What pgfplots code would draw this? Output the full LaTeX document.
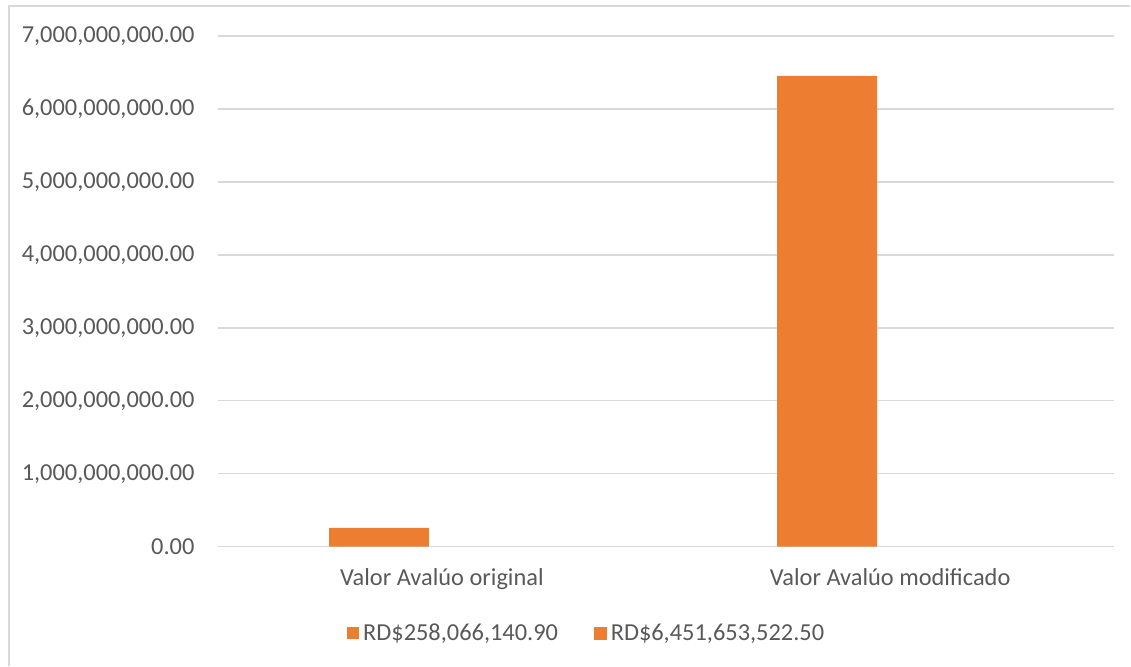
\documentclass[border=0pt]{standalone}
\usepackage{fontspec}
\setmainfont{Carlito}
\usepackage{pgfplots}
\pgfplotsset{compat=1.18}
\definecolor{barorange}{HTML}{ED7D31}
\definecolor{txt}{HTML}{595959}
\definecolor{gridc}{HTML}{D9D9D9}
\begin{document}
\begin{tikzpicture}
\path[draw=none] (0pt,0pt) rectangle (565.5pt,333pt);
\draw[gridc, line width=0.75pt] (4.5pt,0pt) -- (4.5pt,330pt) -- (565.5pt,330pt);
\begin{axis}[
  at={(109pt,59.5pt)}, anchor=south west,
  scale only axis, width=448.5pt, height=255.5pt,
  xmin=-0.5, xmax=1.5, ymin=0, ymax=7000000000,
  xtick={0,1}, xticklabels={Valor Avalúo original, Valor Avalúo modificado},
  ytick={0,1000000000,2000000000,3000000000,4000000000,5000000000,6000000000,7000000000},
  axis line style={draw=none}, tick style={draw=none},
  ymajorgrids, grid style={gridc, line width=0.75pt},
  scaled y ticks=false,
  ticklabel style={font=\fontsize{12.2}{14}\selectfont, text=txt},
  yticklabel style={/pgf/number format/fixed, /pgf/number format/fixed zerofill, /pgf/number format/precision=2, /pgf/number format/1000 sep={,}, /pgf/number format/assume math mode=true},
  yticklabel style={inner sep=0pt, xshift=-11.5pt},
  xticklabel style={inner sep=0pt, yshift=-11pt},
  legend style={at={(0.4125,-0.17)}, anchor=center, draw=none, fill=none, legend columns=2,
    font=\fontsize{12.2}{14}\selectfont, text=txt,
    /tikz/every even column/.append style={column sep=16pt}},
]
\addplot[ybar, bar width=50pt, bar shift=-31.5pt, fill=barorange, draw=none,
  legend image code/.code={\fill[barorange] (0pt,-3pt) rectangle (6pt,3pt);}]
  coordinates {(0,258066140.90) (1,6451653522.50)};
\addlegendentry{RD\$258,066,140.90}
\addlegendimage{legend image code/.code={\fill[barorange] (0pt,-3pt) rectangle (6pt,3pt);}}
\addlegendentry{RD\$6,451,653,522.50}
\end{axis}
\end{tikzpicture}
\end{document}
